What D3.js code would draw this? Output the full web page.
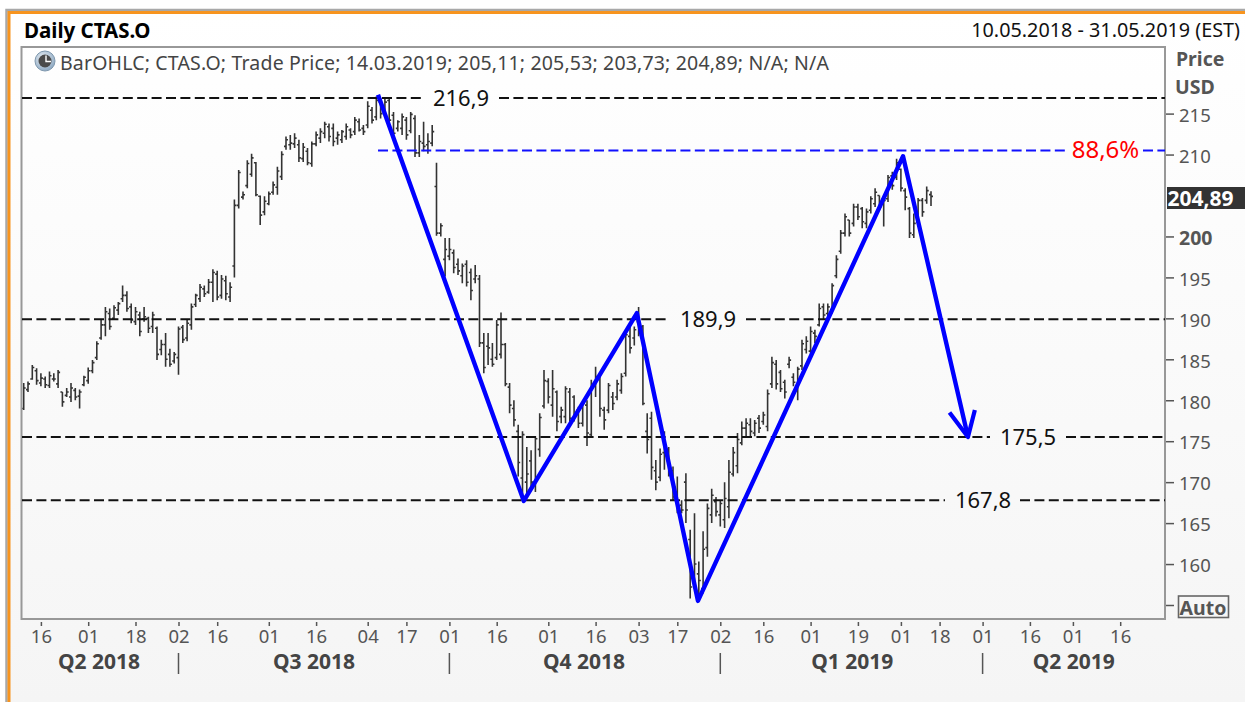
<!DOCTYPE html>
<html><head><meta charset="utf-8">
<script src="https://cdn.jsdelivr.net/npm/d3@7/dist/d3.min.js"></script>
<style>html,body{margin:0;padding:0;background:#fff;overflow:hidden}svg{display:block}text{font-family:"Noto Sans",sans-serif}</style>
</head><body><div id="c"></div>
<script>
const highs=[182.1,182.3,184.3,183.9,183.3,182.9,183.5,183.3,183.7,181.0,
181.5,182.1,181.5,181.3,183,184,184.9,187.2,189.8,191.4,
191.2,191.6,192,194,193.3,191.8,191.4,190.8,191.4,190.2,
190.8,189,187.4,188.2,186.3,185.9,189,189.2,189.8,191.8,
193,194.2,194,194.8,196,195.8,195.3,195.2,194.4,204.5,
208.1,205.5,209.3,210.1,209.1,205,204.9,205.5,206.7,208.5,
210.4,212.2,212.4,212.6,211.8,211.4,210.8,211.6,212.8,213.2,
214,213.8,213.8,212.8,213,213.8,213.2,214.6,214.4,213.6,
216.5,215.8,217.1,216.9,216.9,216.9,215.2,214.2,215,214.6,
215.2,214.8,212.4,214,212.6,213.6,
209,201.6,199.8,199.8,198.4,197.3,196.7,197.1,196.1,196.5,
195.3,188.2,188.2,187,189.8,190.7,187,182.1,180,177,
176.2,174.3,173.9,175.6,178.4,183.7,182.7,183.7,181.2,179.2,
181.7,181.5,180.6,179.2,179.8,180,182.5,184.1,183.1,179.2,
182.1,181,182.5,183.3,188.6,189.4,189,191.4,189.2,178.4,
178.6,172.7,174.1,176.2,174.3,171.9,170.7,167.8,171.1,164.2,
166.2,160.3,164,167.4,169.2,168.2,167.8,170,172.7,174.3,
176,177.4,177.8,177.8,177.6,178.2,178.6,181.3,185.3,184.9,
183.7,182.5,185.3,183.3,184.1,187.4,187.8,189,188.6,191.8,
191.8,191.8,194.3,197.7,200.8,202.8,202,204,204,203.6,
203.4,204.9,205.9,205,205,207.5,207.9,209.5,208.3,205.9,
203.6,202.8,204.7,204.7,206.1,205.53];
const lows=[178.8,181.0,182.5,181.9,181.7,181.5,181.5,182.3,181.5,179.2,
180.4,179.8,180,179,181.7,182,183.3,184.9,187.4,187.8,
188.6,189.8,190.4,192,190.8,189.4,189.2,187.8,189.6,188.2,
188.2,184.9,185.5,184.1,184.1,184.5,183.1,187,187.2,188.6,
191.4,192,192.6,193,192,192.2,192.4,192.2,192,195,
203.4,204.5,205.9,207.3,204.9,201.4,202.6,203.8,205.1,205.1,
206.9,210.6,210.6,210.8,209.1,209.1,208.7,208.5,211,211.4,
212,211.6,211,211.2,211.4,211.8,212,212.4,212.8,212.4,
213.2,213.8,214.2,214.4,214.8,213.8,212,212.8,212.4,211.8,
212.6,209.7,209.7,210.4,210.1,211,
200.1,200,195.1,197.1,195.5,195.3,194.3,193.9,192.2,194.3,
186.5,183.3,184.3,184.1,184.9,185.1,181.7,178.4,176.8,170.7,
168.2,168.2,169,168.8,173.1,179,179.6,178,176.2,177.2,
177.2,176.8,177.4,176.6,176.8,174.4,175.5,180.4,178,176.4,
178.4,178.8,180,180.8,182.9,185.7,186.7,187.8,179.4,173.5,
170.3,169,170.1,171.5,170.7,167.8,166.2,166.2,165,155.8,
157.6,156,156.4,160.9,165,165.8,164.6,164.4,165.6,170.7,
171.1,174.5,175.6,175.6,175.6,176,177,176.2,181.5,181.3,
181,180.2,183.9,181.7,180,183.7,185.7,185.7,187,189,
189.8,190.2,190.6,194.9,197.9,200,200,201.2,202,201,
201,202.8,203.6,203.2,201.2,204.2,205.7,206.9,205.5,203.2,
199.8,199.8,201.2,202.4,204,203.73];
const opens=[179.0,181.3,182.6,183.6,182.1,182.6,181.8,182.6,182.0,181.0,
180.6,180.4,181.2,180.5,181.9,182.4,183.6,185.2,187.6,189.2,
190.6,190.0,191.0,192.4,192.8,191.4,189.6,190.4,189.9,190.0,
189,188.8,186.2,186.8,185.6,184.8,185.2,188.9,187.6,189.2,
191.7,192.4,193.6,193.2,194.4,195.4,192.8,194.6,192.6,196.4,
203.8,204.8,206.2,207.6,209,204.9,203,204,205.4,206,
207.3,211.0,211.2,211.3,211.2,209.5,210.4,208.9,211.3,212,
212.6,213.4,213.2,212.0,211.8,212.2,213,212.8,214,213.2,
213.6,215.4,214.6,216.4,215.2,216.6,214.8,213.2,213.2,214.2,
212.9,214.4,210.2,211.4,211.2,211.4,
206.1,200.4,197.2,197.6,198,196.6,195.2,196.6,195.6,194.8,
194.8,187,186.6,185,185.2,185.6,186.8,181.6,179,176.2,
170.5,170,172.6,170,174,179.3,182.3,179.4,181,178,
178,181,180.4,178.8,177.2,179.4,175.8,182,182.8,178.8,
178.8,180.4,180.4,181.2,183.3,187.8,187.6,189.6,189,176.2,
177.8,171.4,170.6,173.6,174,171.4,168,167.2,170,163,
158.4,158.8,157,162,166,167.6,166,165.4,167,171,
172,174.8,176.6,177,176,177.8,177.4,176.8,182,184.4,
183.4,182.2,184.4,182.8,181.2,184.2,186.2,186,188.2,189.2,
191.4,190.6,191,195.2,198.2,200.4,202,201.6,203.6,203.4,
201.6,203.2,204,205,204.6,204.6,207.4,207.2,208.2,205.6,
203.4,200.2,201.8,204.4,204.4,205.11];
const closes=[181.5,182.0,184.0,182.4,182.7,181.9,183.0,182.6,183.4,179.8,
181.0,181.5,180.4,181.0,182.8,183.6,184.6,186.9,189.2,190.8,
189.0,191.3,191.8,192.8,191.2,189.8,190.8,188.4,190.2,188.8,
190.4,185.6,186.8,185.0,184.4,185.6,188.7,187.4,189.4,191.4,
192.8,193.8,193.0,194.4,195.6,192.6,194.8,193.0,193.8,203.8,
207.8,205.1,208.9,209.6,205.1,202.6,204.3,205.2,206.3,208.0,
210.0,211.8,211.4,212,209.6,210.9,209,211.3,212.4,212.8,
213.7,212.2,211.6,212.4,212.8,213.4,212.4,214.2,213,212.8,
215.9,214.2,216.6,215,216.4,214.2,212.6,214,214.6,212.4,
214.9,210.2,211.6,211.0,211.6,212.8,
200.4,201.3,198.4,198.4,196.2,195.8,196.4,194.4,193.4,195.2,
187,184,186.4,184.4,189.2,186.8,182,179.4,177.6,172.4,
175.8,171,170,175.3,177.9,182.4,180.4,181.4,177.4,178.8,
181.4,177.8,178.2,177.2,179.6,176,181.6,182.9,179,177.6,
181.8,179.6,182,182.9,188,186.4,188.6,188.4,179.6,175.2,
171.8,170,173.4,174,171.4,168.2,167,166.6,166.6,157.2,
160,158,161.8,166.8,168.4,166.4,167.4,168,171.2,173.6,
175.2,176.6,177.2,176.2,177.2,176.6,178.2,180.8,184.6,182,
181.4,181,184.9,182.2,183.8,186.9,187.2,188.4,187.8,191.2,
190.4,191.4,194,197.2,200.4,202.4,200.4,203.6,202.4,201.8,
203,204.6,205.4,203.6,204.4,207.2,206.2,209,205.9,204.8,
200.4,201.6,204.4,203,205.6,204.89];

const monthTickIndex=[4,15,26,36,45,57,68,80,89,99,110,122,133,143,152,162,172,183,194,204,213,223,234,244,255];
const monthTickLabels=["16","01","18","02","16","01","16","04","17","01","16","01","16","03","17","02","16","01","19","01","18","01","16","01","16"];
const quarterLabels=["Q2 2018","Q3 2018","Q4 2018","Q1 2019","Q2 2019"];
const quarterCenters=[17.5,67.5,130.3,192.7,244.2];
const quarterBreaks=[36,99,162,223];
const priceTicks=[215,210,200,195,190,185,180,175,170,165,160];
const levelValues=[216.9,189.9,175.5,167.8];
const levelLabels=["216,9","189,9","175,5","167,8"];
const fibValue=210.5, fibLabel="88,6%", fibStart=82.4;
const zigzagIdx=[82.4,116.3,142.6,156.8,204.5,219.6];
const zigzagPrice=[217.3,167.7,190.65,155.5,209.8,175.5];
const arrowIdx=[215.3,219.6,221.2];
const arrowPrice=[178.5,175.5,178.8];
const lastPrice="204,89";

// layout
const W=1245,H=702;
const L={left:22,right:1165,top:47,bottom:619};
const levelGaps=[[422,499],[667,746],[990,1066],[945,1020]];
const fibGap=[1068,1143];

const x=d3.scaleLinear().domain([0,100]).range([23.7,453.7]);
const y=d3.scaleLinear().domain([155,215]).range([605,113.6]);

const svg=d3.select("#c").append("svg").attr("width",W).attr("height",H);
const defs=svg.append("defs");
const g=defs.append("linearGradient").attr("id","bg").attr("x1",0).attr("y1",0).attr("x2",0).attr("y2",1);
g.append("stop").attr("offset",0).attr("stop-color","#ffffff");
g.append("stop").attr("offset",1).attr("stop-color","#f5f5f5");
const cg=defs.append("radialGradient").attr("id","clk").attr("cx","40%").attr("cy","35%").attr("r","70%");
cg.append("stop").attr("offset",0).attr("stop-color","#e8eef4");
cg.append("stop").attr("offset",1).attr("stop-color","#8aa6c0");

svg.append("rect").attr("x",0).attr("y",0).attr("width",W).attr("height",H).attr("fill","#fff");
svg.append("rect").attr("x",9).attr("y",12).attr("width",W-9).attr("height",H-12).attr("fill","url(#bg)");
// frame
svg.append("path").attr("d",`M6.5 ${H}V10H${W}`).attr("fill","none").attr("stroke","#a8a8a8").attr("stroke-width",2.5);
svg.append("path").attr("d",`M9 ${H}V12.5H${W}`).attr("fill","none").attr("stroke","#f7941e").attr("stroke-width",3);

// OHLC bars
const idx=d3.range(highs.length);
const bars=svg.append("g").attr("stroke","#333").attr("stroke-width",1.6).attr("fill","none");
bars.selectAll("path").data(idx).join("path")
 .attr("d",i=>{const X=x(i);return `M${X} ${y(highs[i])}V${y(lows[i])}M${X-2} ${y(opens[i])}H${X}M${X} ${y(closes[i])}H${X+2}`;});

// plot border
svg.append("rect").attr("x",L.left-0.5).attr("y",L.top).attr("width",L.right-L.left+0.5).attr("height",L.bottom-L.top)
 .attr("fill","none").attr("stroke","#989898").attr("stroke-width",2);

// level lines
const dash="10 4.4";
const lv=svg.append("g").attr("stroke","#111").attr("stroke-width",2).attr("stroke-dasharray",dash);
levelValues.forEach((v,k)=>{
 lv.append("line").attr("x1",L.left).attr("x2",levelGaps[k][0]).attr("y1",y(v)).attr("y2",y(v));
 lv.append("line").attr("x1",levelGaps[k][1]).attr("x2",L.right).attr("y1",y(v)).attr("y2",y(v));
});
const fl=svg.append("g").attr("stroke","#1010ff").attr("stroke-width",2).attr("stroke-dasharray",dash);
fl.append("line").attr("x1",x(fibStart)).attr("x2",fibGap[0]).attr("y1",y(fibValue)).attr("y2",y(fibValue));
fl.append("line").attr("x1",fibGap[1]).attr("x2",L.right).attr("y1",y(fibValue)).attr("y2",y(fibValue));

// zigzag
const line=d3.line().x(d=>x(d[0])).y(d=>y(d[1]));
svg.append("path").attr("d",line(d3.zip(zigzagIdx,zigzagPrice))).attr("fill","none").attr("stroke","#0000ff").attr("stroke-width",4.4).attr("stroke-linejoin","round");
svg.append("path").attr("d",line(d3.zip(arrowIdx,arrowPrice))).attr("fill","none").attr("stroke","#0000ff").attr("stroke-width",4.2).attr("stroke-linejoin","round");

// level labels
const labelX=[461,708,1028,983];
levelValues.forEach((v,k)=>{
 svg.append("text").attr("x",labelX[k]).attr("y",y(v)+7.5).attr("text-anchor","middle").attr("font-size",22).attr("fill","#111").text(levelLabels[k]);
});
svg.append("text").attr("x",1105.5).attr("y",y(fibValue)+8).attr("text-anchor","middle").attr("font-size",24).attr("fill","#ff0000").text(fibLabel);

// axes
const axisColor="#555";
const ya=svg.append("g").attr("transform",`translate(${L.right+1},0)`)
 .call(d3.axisRight(y).tickValues(priceTicks.concat([155])).tickSize(8).tickPadding(5).tickFormat(d=>d==155?"":d));
ya.select(".domain").remove();
ya.selectAll("line").attr("stroke",axisColor).attr("stroke-width",1.5);
ya.selectAll("text").attr("font-size",18.5).attr("fill",axisColor).attr("dy","0.42em").style("font-family",'"Noto Sans",sans-serif');
ya.selectAll(".tick text").filter(d=>d==200).attr("font-weight",700).attr("font-size",19.5);

const xa=svg.append("g").attr("transform",`translate(0,${L.bottom+3})`)
 .call(d3.axisBottom(x).tickValues(monthTickIndex).tickSize(4).tickPadding(4).tickFormat((d,i)=>monthTickLabels[i]));
xa.select(".domain").remove();
xa.selectAll("line").attr("stroke",axisColor).attr("stroke-width",1.5);
xa.selectAll("text").attr("font-size",18.5).attr("fill",axisColor).style("font-family",'"Noto Sans",sans-serif');

svg.append("g").selectAll("text").data(quarterLabels).join("text")
 .attr("x",(d,i)=>x(quarterCenters[i])).attr("y",669).attr("text-anchor","middle")
 .attr("font-size",21).attr("font-weight",700).attr("fill","#444").text(d=>d);
svg.append("g").selectAll("line").data(quarterBreaks).join("line")
 .attr("x1",d=>x(d)).attr("x2",d=>x(d)).attr("y1",653).attr("y2",674).attr("stroke","#555").attr("stroke-width",1.5);

// headers
svg.append("text").attr("x",24).attr("y",38).attr("font-size",20.5).attr("font-weight",700).attr("fill","#000").text("Daily CTAS.O");
svg.append("text").attr("x",1240).attr("y",37).attr("text-anchor","end").attr("font-size",19.8).attr("fill","#111").text("10.05.2018 - 31.05.2019 (EST)");
svg.append("text").attr("x",60).attr("y",70).attr("font-size",19.5).attr("fill","#444").attr("textLength",769).attr("lengthAdjust","spacing")
 .text("BarOHLC; CTAS.O; Trade Price; 14.03.2019; 205,11; 205,53; 203,73; 204,89; N/A; N/A");
svg.append("text").attr("x",1176).attr("y",66).attr("font-size",19.5).attr("font-weight",700).attr("fill","#555").text("Price");
svg.append("text").attr("x",1175).attr("y",94).attr("font-size",19.5).attr("font-weight",700).attr("fill","#555").text("USD");

// clock icon
svg.append("circle").attr("cx",45).attr("cy",61).attr("r",10).attr("fill","url(#clk)").attr("stroke","#7f98ae").attr("stroke-width",1);
svg.append("circle").attr("cx",45).attr("cy",61).attr("r",6.5).attr("fill","#4a4a4a");
svg.append("path").attr("d","M46 55.5V61.5H51").attr("stroke","#fff").attr("stroke-width",1.4).attr("fill","none");

// last price tag
svg.append("rect").attr("x",1167).attr("y",187).attr("width",78).attr("height",22).attr("fill","#333");
svg.append("text").attr("x",1167.5).attr("y",206).attr("font-size",21).attr("font-weight",700).attr("fill","#fff").text(lastPrice);

// auto button
svg.append("rect").attr("x",1178.5).attr("y",596).attr("width",50).attr("height",21.5).attr("fill","none").attr("stroke","#666").attr("stroke-width",1.6);
svg.append("text").attr("x",1179.5).attr("y",615).attr("font-size",19.5).attr("font-weight",700).attr("fill","#555").text("Auto");
</script></body></html>
